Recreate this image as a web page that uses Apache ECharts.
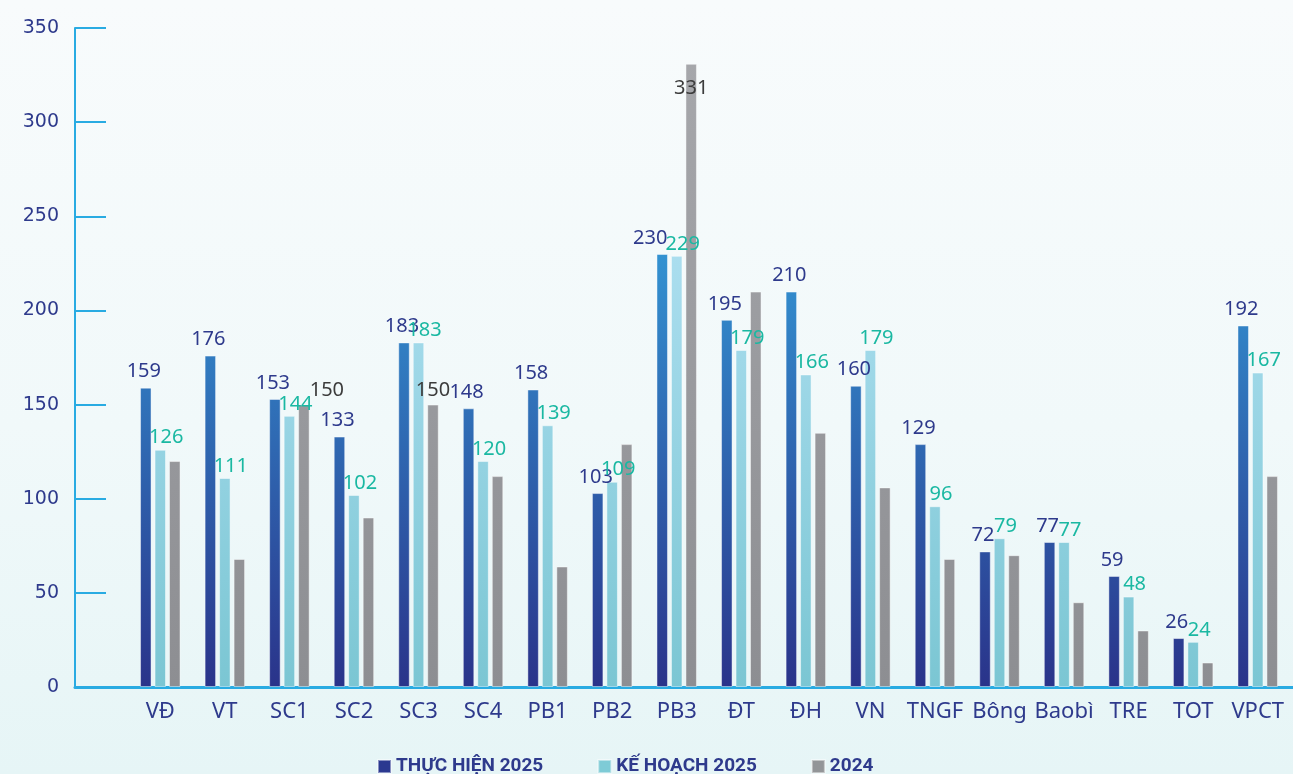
<!DOCTYPE html>
<html>
<head>
<meta charset="utf-8">
<script src="https://cdn.jsdelivr.net/npm/echarts@6/dist/echarts.min.js"></script>
<style>
  html, body { margin: 0; padding: 0; }
  body { background: linear-gradient(to bottom, #f8fbfc 0%, #f1f9fa 55%, #e6f5f6 100%); }
  #main { width: 1293px; height: 774px; }
</style>
</head>
<body>
<div id="main"></div>
<script type="text/javascript">
// data
var categories = ['VĐ', 'VT', 'SC1', 'SC2', 'SC3', 'SC4', 'PB1', 'PB2', 'PB3', 'ĐT', 'ĐH', 'VN', 'TNGF', 'Bông', 'Baobì', 'TRE', 'TOT', 'VPCT'];
var thucHien2025 = [159, 176, 153, 133, 183, 148, 158, 103, 230, 195, 210, 160, 129, 72, 77, 59, 26, 192];
var keHoach2025 = [126, 111, 144, 102, 183, 120, 139, 109, 229, 179, 166, 179, 96, 79, 77, 48, 24, 167];
var nam2024 = [120, 68, 150, 90, 150, 112, 64, 129, 331, 210, 135, 106, 68, 70, 45, 30, 13, 112];
var seriesNames = ['THỰC HIỆN 2025', 'KẾ HOẠCH 2025', '2024'];
var yTicks = [0, 50, 100, 150, 200, 250, 300, 350];

// only a few 2024 values carry a label in the original
var shown2024 = [2, 4, 8];

var myChart = echarts.init(document.getElementById('main'));

function grad(y1, c1, y2, c2) {
    return new echarts.graphic.LinearGradient(0, y1, 0, y2, [
        { offset: 0, color: c1 },
        { offset: 1, color: c2 }
    ], true);
}

var labelFont = { fontFamily: 'Noto Sans', fontSize: 20 };

var data1 = thucHien2025.map(function (v, i) {
    return { value: v, label: { offset: [i === 8 ? -12 : -2, 0] } };
});
var data2 = keHoach2025.map(function (v) { return v; });
var data3 = nam2024.map(function (v, i) {
    if (shown2024.indexOf(i) < 0) return v;
    if (i === 8) return { value: v, label: { show: true, position: 'insideTop', distance: 15, offset: [0, 0] } };
    if (i === 2) return { value: v, label: { show: true, offset: [23, 0] } };
    return { value: v, label: { show: true } };
});

var option = {
    animation: false,
    textStyle: { fontFamily: 'Noto Sans' },
    grid: [
        { left: 128, right: 3, top: 28, bottom: 87 },
        { left: 75, right: 0, top: 28, bottom: 87 }
    ],
    legend: {
        top: 757,
        left: 377,
        padding: 0,
        itemGap: 54,
        itemWidth: 13,
        itemHeight: 13,
        icon: 'rect',
        textStyle: {
            fontFamily: 'Roboto',
            fontWeight: 'bold',
            fontSize: 19,
            color: '#2e3a8c'
        },
        data: [
            { name: seriesNames[0], itemStyle: { color: '#2b3990' } },
            { name: seriesNames[1], itemStyle: { color: '#7ecbd6' } },
            { name: seriesNames[2], itemStyle: { color: '#939598' } }
        ]
    },
    xAxis: [
        {
            type: 'category',
            gridIndex: 0,
            data: categories,
            axisLine: { show: false },
            axisTick: { show: false },
            axisLabel: {
                interval: 0,
                margin: 14,
                color: '#2e3a8c',
                fontFamily: 'Noto Sans',
                fontSize: 22
            }
        },
        {
            type: 'value',
            gridIndex: 1,
            min: 0,
            max: 1,
            axisLine: { show: true, lineStyle: { color: '#29abe2', width: 3 } },
            axisTick: { show: false },
            axisLabel: { show: false },
            splitLine: { show: false }
        }
    ],
    yAxis: [
        {
            type: 'value',
            gridIndex: 0,
            min: yTicks[0],
            max: yTicks[yTicks.length - 1],
            interval: 50,
            offset: 53,
            axisLine: { show: true, lineStyle: { color: '#29abe2', width: 2 } },
            axisTick: { show: true, inside: true, length: 31, lineStyle: { color: '#29abe2', width: 2 } },
            splitLine: { show: false },
            axisLabel: {
                margin: 16,
                color: '#2e3a8c',
                fontFamily: 'DejaVu Sans',
                fontSize: 19
            }
        },
        {
            type: 'value',
            gridIndex: 1,
            show: false
        }
    ],
    series: [
        {
            name: seriesNames[0],
            type: 'bar',
            barWidth: 11.5,
            barGap: '26%',
            itemStyle: {
                color: grad(250, '#3393d2', 687, '#2a338a'),
                borderColor: 'rgba(255,255,255,0.45)',
                borderWidth: 1
            },
            label: {
                show: true,
                position: 'top',
                distance: 6,
                color: '#2e3a8c',
                fontFamily: labelFont.fontFamily,
                fontSize: labelFont.fontSize
            },
            data: data1
        },
        {
            name: seriesNames[1],
            type: 'bar',
            barWidth: 11.5,
            barGap: '26%',
            itemStyle: {
                color: grad(250, '#abdeef', 687, '#7bc6d3'),
                borderColor: 'rgba(255,255,255,0.45)',
                borderWidth: 1
            },
            label: {
                show: true,
                position: 'top',
                distance: 2,
                offset: [6, 0],
                color: '#1ab8a2',
                fontFamily: labelFont.fontFamily,
                fontSize: labelFont.fontSize
            },
            data: data2
        },
        {
            name: seriesNames[2],
            type: 'bar',
            barWidth: 11.5,
            barGap: '26%',
            itemStyle: {
                color: grad(60, '#a6a7ab', 687, '#8d8e92'),
                borderColor: 'rgba(255,255,255,0.45)',
                borderWidth: 1
            },
            label: {
                show: false,
                position: 'top',
                distance: 4,
                color: '#3c3c3c',
                fontFamily: labelFont.fontFamily,
                fontSize: labelFont.fontSize
            },
            data: data3
        }
    ]
};

myChart.setOption(option);
</script>
</body>
</html>
